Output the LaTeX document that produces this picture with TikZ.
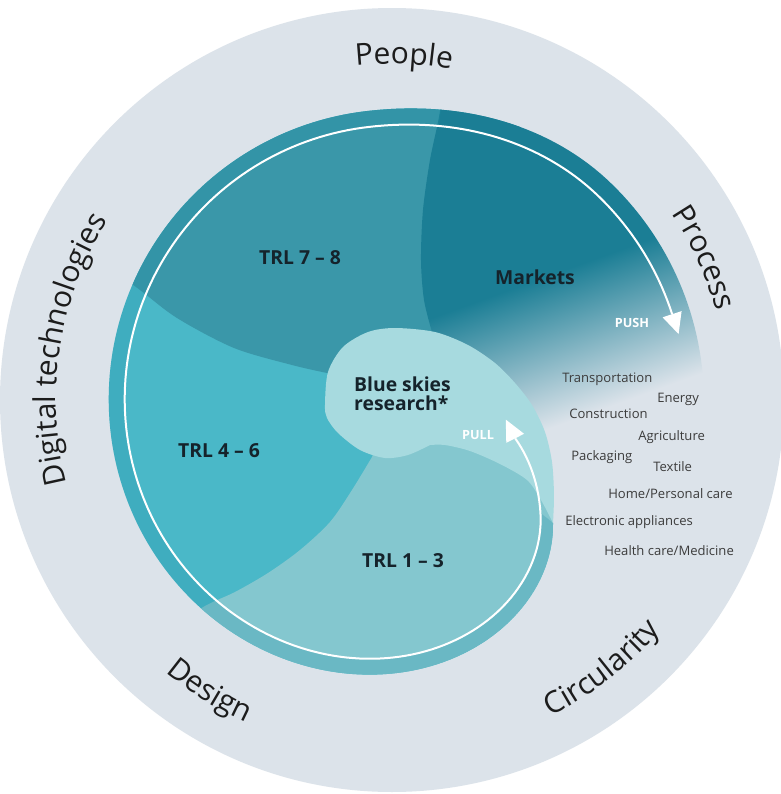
\documentclass[tikz,border=0pt]{standalone}
\usepackage{fontspec}
\setmainfont{Open Sans}
\usetikzlibrary{decorations.text}
\definecolor{ring}{HTML}{DCE3EA}
\definecolor{mkt}{HTML}{1B7E95}
\definecolor{trlA}{HTML}{3A97A9}
\definecolor{trlB}{HTML}{4AB8C8}
\definecolor{trlC}{HTML}{84C7CF}
\definecolor{blob}{HTML}{A7DADF}
\definecolor{rimc}{HTML}{1F8FA5}
\definecolor{ink}{HTML}{15232B}
\definecolor{grayink}{HTML}{3C3C3C}
\definecolor{ringink}{HTML}{1C1C1C}
\pgfdeclareverticalshading{mktfade}{100bp}{color(0bp)=(ring); color(45.8bp)=(ring); color(53.8bp)=(mkt); color(100bp)=(mkt)}
\newcommand\ringfont{\fontsize{22.5}{27}\selectfont}
\tikzset{
  declare function={
    su(\t)=min(max((\t-225)/50,0),1);
    ro(\t)=293-98*exp(-\t/35)+11*(3*su(\t)^2-2*su(\t)^3);
    rw(\t)=277-98*exp(-max(\t,0)/35)+2.8*min(\t,0)+9*(3*su(\t)^2-2*su(\t)^3);
  },
  lab/.style={font=\bfseries\fontsize{14.5}{14.3}\selectfont, text=ink, inner sep=0pt},
  ind/.style={font=\fontsize{9.8}{11}\selectfont, text=grayink, inner sep=0pt, anchor=base west},
  pp/.style={font=\bfseries\fontsize{9.5}{11}\selectfont, text=white, inner sep=0pt},
  ringtext/.style={decorate, decoration={text along path, text={|\ringfont|#1}, text align=center, text color=ringink}}
}
\begin{document}
\begin{tikzpicture}[x=0.75pt,y=0.75pt]
\useasboundingbox (-400,-392) rectangle (381,402);
\fill[white] (-400,-392) rectangle (381,402);
\fill[ring] (-8,2) circle (392);

\begin{scope}
\clip plot[domain=0:360, samples=241, variable=\t] ({321.7-\t}:{ro(\t)}) -- cycle;
% TRL 4-6 base
\fill[trlB] (-400,400) -- (40,400) -- (40,45) -- (70,0) -- (135,-70) -- (148,-100) -- (153,-121) -- (220,-300) -- (100,-400) -- (-400,-400) -- cycle;
% TRL 7-8
\fill[trlA] plot[smooth] coordinates {(-340,170) (-264,115) (-223,84) (-166,54) (-108,37) (-73,29)} -- (40,45) -- (120,250) -- (120,360) -- (-340,360) -- cycle;
% TRL 1-3
\fill[trlC] (0,-20) -- (-20,-35) -- plot[smooth] coordinates {(-28,-55) (-48,-88) (-70,-120) (-100,-148) (-132,-171) (-165,-190) (-195,-204) (-240,-232)} -- (-200,-380) -- (100,-380) -- (220,-300) -- (153,-121) -- (148,-100) -- (135,-70) -- (70,0) -- cycle;
% Markets, fading out towards the lower right
\begin{scope}
\clip plot[smooth] coordinates {(42,330) (40,291) (30,242) (23,192) (21,142) (24,102) (32,70)} -- (70,0) -- (135,-70) -- (148,-100) -- (153,-121) -- (-38.3:420) -- (420,0) -- (400,360) -- (42,360) -- cycle;
\begin{scope}[transform canvas={rotate=19.9}]
\shade[shading=mktfade] (-450,-450) rectangle (450,450);
\end{scope}
\end{scope}
% rim band
\fill[rimc, opacity=0.25] plot[domain=0:239.7, samples=120, variable=\t] ({321.7-\t}:{ro(\t)}) -- plot[domain=239.7:0, samples=120, variable=\t] ({321.7-\t}:{rw(\t)}) -- cycle;
% blue skies blob and tail
\fill[blob] plot[smooth] coordinates {(30,-43) (8,-53) (-15,-56) (-40,-48) (-62,-31) (-73,-16) (-75,-3) (-72,30) (-57,55) (-32,70) (-5,74) (35,70) (68,57) (95,39) (115,19) (132,-3) (145,-30) (152,-60) (154,-93) (153,-121)} -- plot[smooth] coordinates {(153,-121) (141,-98) (127,-78) (100,-62) (70,-49) (45,-43) (30,-43)} -- cycle;
\end{scope}

% white spiral with push / pull heads
\draw[white, line width=1.5pt] plot[domain=303.8:-20.8, samples=220, variable=\t] ({321.7-\t}:{rw(\t)});
\fill[white] (278.6,67.9) -- (281.6,90.9) -- (262.6,84.7) -- cycle;
\fill[white] (105.8,-17.6) -- (124.1,-31.8) -- (106.3,-40.8) -- cycle;

% inner labels
\node[lab] (t78) at (-100,144) {TRL 7 – 8};
\node[lab] (mk) at (135,125) {Markets};
\node[lab] (t46) at (-181,-49) {TRL 4 – 6};
\node[lab] (t13) at (3,-159) {TRL 1 – 3};
\node[lab, align=left] (bsr) at (2.5,8.5) {Blue skies\\research*};
\node[pp] (push) at (232,79) {PUSH};
\node[pp] (pull) at (78,-33) {PULL};

% industries
\node[ind] (i1) at (162,20) {Transportation};
\node[ind] (i2) at (257,-0.5) {Energy};
\node[ind] (i3) at (169,-16) {Construction};
\node[ind] (i4) at (238,-38) {Agriculture};
\node[ind] (i5) at (171,-58) {Packaging};
\node[ind] (i6) at (253,-69) {Textile};
\node[ind] (i7) at (208,-96) {Home/Personal care};
\node[ind] (i8) at (165,-123) {Electronic appliances};
\node[ind] (i9) at (204,-153) {Health care/Medicine};

% ring words
\path[ringtext=People] (-8,2) ++(128:336) arc[start angle=128, end angle=48, radius=336];
\path[ringtext=Digital technologies] (-8,2) ++(221:336) arc[start angle=221, end angle=121, radius=336];
\path[ringtext=Process] (-8,2) ++(64.5:336) arc[start angle=64.5, end angle=-15.5, radius=336];
\path[ringtext=Design] (-8,2) ++(198:354) arc[start angle=198, end angle=278, radius=354];
\path[ringtext=Circularity] (-8,2) ++(268:354) arc[start angle=268, end angle=348, radius=354];
\end{tikzpicture}
\end{document}
